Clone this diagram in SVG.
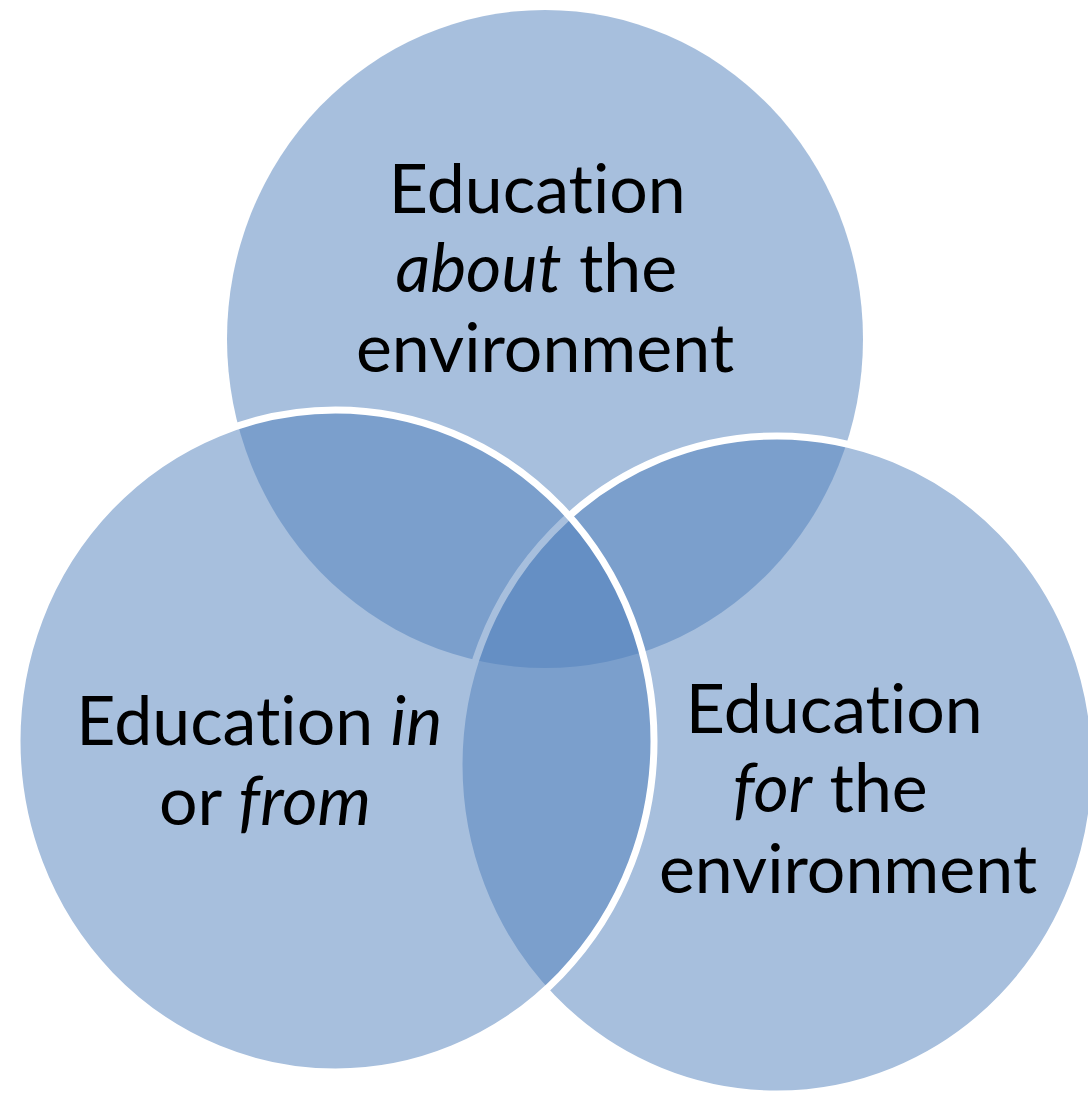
<svg xmlns="http://www.w3.org/2000/svg" width="1088" height="1098" viewBox="0 0 1088 1098">
  <style>
    .set { fill: #4F7FBB; fill-opacity: 0.5; }
    .edge { stroke: #FFFFFF; stroke-width: 7; }
    .label { font-family: Lato, "Open Sans", "Liberation Sans", sans-serif; font-size: 68px; fill: #000000; text-anchor: middle; font-variant-ligatures: none; }
    .em { font-style: italic; }
  </style>
  <rect width="1088" height="1098" fill="#FFFFFF"/>
  <g id="about">
    <ellipse class="set" cx="545" cy="339" rx="318" ry="329"/>
    <text class="label">
      <tspan x="546" y="213">Education</tspan>
      <tspan x="545" y="292"><tspan class="em">about</tspan> the</tspan>
      <tspan x="545" y="372">environment</tspan>
    </text>
  </g>
  <g id="for">
    <ellipse class="set edge" cx="777" cy="765" rx="318" ry="329"/>
    <text class="label">
      <tspan x="843" y="733">Education</tspan>
      <tspan x="839" y="812"><tspan class="em">for</tspan> the</tspan>
      <tspan x="848" y="893">environment</tspan>
    </text>
  </g>
  <g id="in-from">
    <ellipse class="set edge" cx="335.5" cy="741" rx="318.5" ry="331"/>
    <text class="label">
      <tspan x="268" y="745">Education <tspan class="em">in</tspan></tspan>
      <tspan x="265" y="825">or <tspan class="em">from</tspan></tspan>
    </text>
  </g>
  <g id="connectors"/>
</svg>
